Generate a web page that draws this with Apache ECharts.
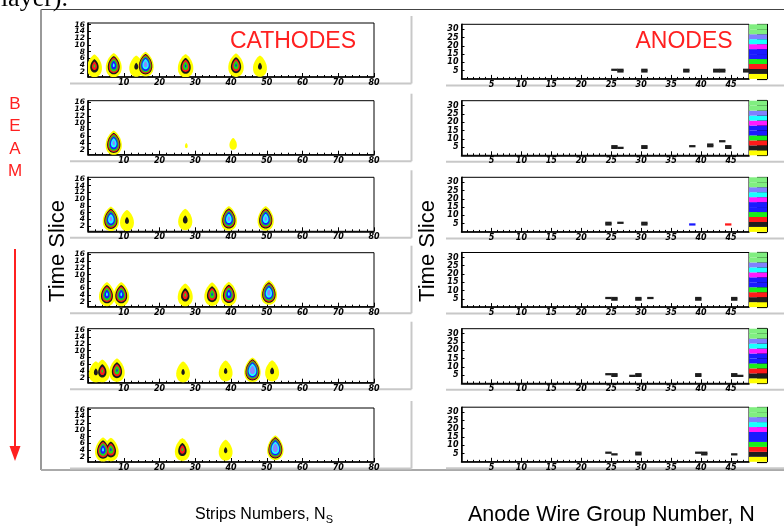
<!DOCTYPE html>
<html><head><meta charset="utf-8">
<script src="https://cdn.jsdelivr.net/npm/echarts@6/dist/echarts.min.js"></script>
<style>html,body{margin:0;padding:0;background:#fff}#c{width:784px;height:530px}</style>
</head><body><div id="c"></div>
<script>
// ---------- data ----------
const cathodeYTicks = [2, 4, 6, 8, 10, 12, 14, 16];
const cathodeYLabelsA = [2, 6, 10, 14];
const cathodeYLabelsB = [4, 8, 12, 16];
const anodeYTicks = [5, 10, 15, 20, 25, 30];
// cathode hits: [strip, time slice, amplitude]
const cathode1 = [[1.8, 3.8, 7.5], [7.2, 4, 12.5], [13.5, 3.7, 5], [16.1, 4.3, 17.5], [27.3, 3.8, 9.5], [41.4, 4, 9.5], [48.1, 3.7, 5]];
const cathode2 = [[7.2, 4, 16.5], [27.5, 3.2, 1.15], [40.6, 3.7, 1.7]];
const cathode3 = [[6.4, 4.2, 16.5], [10.9, 3.7, 5], [27.2, 4, 5.3], [39.4, 4.3, 16.5], [49.7, 4.3, 16.5]];
const cathode4 = [[5.3, 4.2, 12.5], [9.3, 4.2, 12.5], [27.2, 4, 7.5], [34.7, 4.2, 9.5], [39.4, 4.3, 12.5], [50.6, 4.7, 17.5]];
const cathode5 = [[2.2, 3.7, 5], [4, 4, 7.5], [8.1, 4.2, 9.5], [26.6, 3.7, 4.8], [38.5, 4, 4.8], [46, 4.3, 20], [51.5, 4, 5]];
const cathode6 = [[4.2, 4.2, 12.5], [6.4, 4.2, 9.5], [26.4, 4.2, 7.5], [38.5, 4, 4.8], [52.4, 4.7, 20]];
// anode cells: [wire group, time slice, palette index]
const anode1 = [[25, 5, 1], [26, 4, 1], [26, 5, 1], [30, 4, 1], [30, 5, 1], [37, 4, 1], [37, 5, 1], [42, 4, 1], [42, 5, 1], [43, 4, 1], [43, 5, 1], [47, 4, 1], [47, 5, 1]];
const anode2 = [[25, 4, 1], [25, 5, 1], [26, 4, 1], [30, 4, 1], [30, 5, 1], [38, 5, 1], [41, 5, 1], [41, 6, 1], [43, 8, 1], [44, 4, 1], [44, 5, 1]];
const anode3 = [[24, 4, 1], [24, 5, 1], [26, 5, 1], [30, 4, 1], [30, 5, 1], [38, 4, 4], [44, 4, 2]];
const anode4 = [[24, 5, 1], [25, 4, 1], [25, 5, 1], [29, 4, 1], [29, 5, 1], [31, 5, 1], [39, 4, 1], [39, 5, 1], [45, 4, 1], [45, 5, 1]];
const anode5 = [[24, 5, 1], [25, 4, 1], [25, 5, 1], [28, 4, 1], [29, 4, 1], [29, 5, 1], [39, 4, 1], [39, 5, 1], [45, 4, 1], [45, 5, 1], [46, 4, 1]];
const anode6 = [[24, 5, 1], [25, 4, 1], [29, 4, 1], [29, 5, 1], [39, 5, 1], [40, 4, 1], [40, 5, 1], [45, 4, 1]];
const paletteColors = ['#ffff00', '#1e1e1e', '#ff1a1a', '#1aee1a', '#1a1aff', '#1a1aff', '#ff1aff', '#1affff', '#8080ff', '#80ee80', '#80ee80'];
const contourLevels = [1, 4, 5.5, 7, 9, 11.5, 14.5];
const contourColors = ['#ffff00', '#1a1a1a', '#ff1a1a', '#1add1a', '#1a1aff', '#1affff', '#8888ff'];

const cathodes = [cathode1, cathode2, cathode3, cathode4, cathode5, cathode6];
const anodes = [anode1, anode2, anode3, anode4, anode5, anode6];

// ---------- layout ----------
const cathTops = [23, 100.7, 177.3, 252.7, 328.7, 408];
const cathH = 54;
const anoTops = [24.3, 100.7, 177.3, 252.5, 328.7, 407.2];
const anoH = 54.6;

const lab = { fontFamily: 'DejaVu Sans', fontSize: 8, lineHeight: 8, fontWeight: 'bold', fontStyle: 'italic', color: '#000', hideOverlap: false };

function teardrop(cx, cy, rx, ry) {
  const pts = [];
  const N = 40;
  for (let k = 0; k < N; k++) {
    const t = 2 * Math.PI * k / N;
    const w = Math.sqrt(Math.abs(Math.sin(t / 2)));
    pts.push([cx + rx * Math.sin(t) * w / 0.86, cy - ry * Math.cos(t)]);
  }
  return pts;
}
function makeContour(lev) {
  return function (params, api) {
    const a = api.value(2);
    const thr = contourLevels[lev];
    if (!(a > thr)) return { type: 'group', children: [] };
    const f = 1 - thr / a;
    const p = api.coord([api.value(0), api.value(1)]);
    const rx = 8.3 * f + 0.3, ry = 12 * f + 1;
    const cs = params.coordSys;
    return {
      type: 'polygon',
      shape: { points: teardrop(p[0], p[1], rx, ry) },
      style: { fill: contourColors[lev] },
      clipPath: { type: 'rect', shape: { x: cs.x, y: cs.y, width: cs.width, height: cs.height } }
    };
  };
}
function cellItem(params, api) {
  const w = api.value(0), t = api.value(1), v = api.value(2);
  const p0 = api.coord([w, t + 1]), p1 = api.coord([w + 1, t]);
  return { type: 'rect', shape: { x: p0[0], y: p0[1] - 0.3, width: p1[0] - p0[0] + 0.4, height: p1[1] - p0[1] + 0.6 }, style: { fill: paletteColors[v] } };
}
function paletteItem(params, api) {
  const i = api.value(0);
  const p0 = api.coord([0, i + 1]), p1 = api.coord([1, i]);
  return { type: 'rect', shape: { x: p0[0], y: p0[1], width: p1[0] - p0[0], height: p1[1] - p0[1] }, style: { fill: paletteColors[i] } };
}

const option = { animation: false, backgroundColor: '#fff', grid: [], xAxis: [], yAxis: [], series: [], graphic: [] };
const axLine = { onZero: false, lineStyle: { color: '#000', width: 1.5 } };

cathodes.forEach((hits, i) => {
  const gi = option.grid.length;
  option.grid.push({ left: 88, top: cathTops[i], width: 286, height: cathH, show: true, borderColor: '#000', borderWidth: 1, containLabel: false, outerBoundsMode: 'none' });
  const xi = option.xAxis.length;
  option.xAxis.push({ gridIndex: gi, type: 'value', min: 0, max: 80, interval: 10, axisLine: axLine,
    axisTick: { inside: true, length: 4, lineStyle: { color: '#000' } },
    minorTick: { show: true, splitNumber: 5, length: 2, lineStyle: { color: '#000' } },
    splitLine: { show: false }, minorSplitLine: { show: false },
    axisLabel: Object.assign({}, lab, { margin: 2, showMinLabel: false }) });
  const yi = option.yAxis.length;
  option.yAxis.push({ gridIndex: gi, type: 'value', min: 0.5, max: 16.5, axisLine: axLine,
    axisTick: { inside: true, length: 3, customValues: cathodeYTicks, lineStyle: { color: '#000' } },
    splitLine: { show: false },
    axisLabel: Object.assign({}, lab, { fontSize: 7.5, margin: 3, customValues: cathodeYLabelsA }) });
  option.yAxis.push({ gridIndex: gi, type: 'value', min: 0.5, max: 16.5, position: 'left',
    axisLine: { show: false, onZero: false }, axisTick: { show: false }, splitLine: { show: false },
    axisLabel: Object.assign({}, lab, { fontSize: 7.5, margin: 3, customValues: cathodeYLabelsB }) });
  contourColors.forEach((c, lev) => {
    option.series.push({ type: 'custom', xAxisIndex: xi, yAxisIndex: yi, silent: true, data: hits, renderItem: makeContour(lev) });
  });
});

anodes.forEach((cells, i) => {
  const gi = option.grid.length;
  option.grid.push({ left: 461.5, top: anoTops[i], width: 287.5, height: anoH, show: true, borderColor: '#000', borderWidth: 1, containLabel: false, outerBoundsMode: 'none' });
  const xi = option.xAxis.length;
  option.xAxis.push({ gridIndex: gi, type: 'value', min: 0, max: 48, interval: 5, axisLine: axLine,
    axisTick: { inside: true, length: 4, lineStyle: { color: '#000' } },
    minorTick: { show: true, splitNumber: 5, length: 2, lineStyle: { color: '#000' } },
    splitLine: { show: false }, minorSplitLine: { show: false },
    axisLabel: Object.assign({}, lab, { margin: 2, showMinLabel: false, showMaxLabel: false }) });
  const yi = option.yAxis.length;
  option.yAxis.push({ gridIndex: gi, type: 'value', min: 0, max: 33, interval: 5, axisLine: axLine,
    axisTick: { inside: true, length: 3, lineStyle: { color: '#000' } },
    splitLine: { show: false },
    axisLabel: Object.assign({}, lab, { margin: 3, showMinLabel: false, showMaxLabel: false }) });
  option.series.push({ type: 'custom', xAxisIndex: xi, yAxisIndex: yi, silent: true, data: cells, renderItem: cellItem });

  const pi = option.grid.length;
  option.grid.push({ left: 749, top: anoTops[i], width: 18, height: anoH, show: false, containLabel: false, outerBoundsMode: 'none' });
  const pxi = option.xAxis.length;
  option.xAxis.push({ gridIndex: pi, type: 'value', min: 0, max: 1, show: false });
  const pyi = option.yAxis.length;
  option.yAxis.push({ gridIndex: pi, type: 'value', min: 0, max: 11, interval: 1, position: 'right',
    axisLine: { onZero: false, lineStyle: { color: '#000', width: 1 } },
    axisTick: { inside: true, length: 10, lineStyle: { color: '#000', width: 1.2 } },
    axisLabel: { show: false }, splitLine: { show: false } });
  option.series.push({ type: 'custom', xAxisIndex: pxi, yAxisIndex: pyi, silent: true, z: 1, data: paletteColors.map((c, k) => [k]), renderItem: paletteItem });
});

// ---------- decorations ----------
const G = option.graphic;
function line(x1, y1, x2, y2, stroke, w) { G.push({ type: 'line', silent: true, z: -1, shape: { x1, y1, x2, y2 }, style: { stroke, lineWidth: w } }); }
// outer frame
line(41, 9.5, 784, 9.5, '#444', 1.2);
line(41, 9.5, 41, 470, '#999', 2);
line(41, 470, 784, 470, '#aaa', 2);
// panel boxes
cathTops.forEach(t => {
  line(70, t + cathH + 6.5, 411.5, t + cathH + 6.5, '#c8c8c8', 2);
  line(411.5, t - 7, 411.5, t + cathH + 6.5, '#c8c8c8', 2);
});
anoTops.forEach(t => { line(446, t + anoH + 6.5, 784, t + anoH + 6.5, '#c8c8c8', 2); });

function text(x, y, str, font, fill, align, valign, rot) {
  const el = { type: 'text', x, y, silent: true, z: 10, style: { text: str, font, fill, textAlign: align, textVerticalAlign: valign, align, verticalAlign: valign } };
  if (rot) { el.rotation = rot; }
  G.push(el);
}
text(68, 12, 'layer).', '26px "Liberation Serif"', '#000', 'right', 'bottom');
text(293, 42, 'CATHODES', '23px "Liberation Sans"', '#ff2020', 'center', 'middle');
text(684, 42, 'ANODES', '23px "Liberation Sans"', '#ff2020', 'center', 'middle');
['B', 'E', 'A', 'M'].forEach((ch, k) => text(15, 104 + k * 22.5, ch, '17px "Liberation Sans"', '#ff2020', 'center', 'middle'));
text(58, 251, 'Time Slice', '22px "Liberation Sans"', '#000', 'center', 'middle', Math.PI / 2);
text(428, 251, 'Time Slice', '22px "Liberation Sans"', '#000', 'center', 'middle', Math.PI / 2);
G.push({ type: 'line', silent: true, shape: { x1: 15, y1: 249, x2: 15, y2: 448 }, style: { stroke: '#ff2020', lineWidth: 2 } });
G.push({ type: 'polygon', silent: true, shape: { points: [[9.5, 446], [20.5, 446], [15, 461]] }, style: { fill: '#ff2020' } });
G.push({ type: 'text', x: 264, y: 515, silent: true, style: {
  text: 'Strips Numbers, N{s|S}', font: '16px "Liberation Sans"', fill: '#000', textAlign: 'center', textVerticalAlign: 'middle', align: 'center', verticalAlign: 'middle',
  rich: { s: { fontSize: 11, fontFamily: 'Liberation Sans', fill: '#000', padding: [9, 0, 0, 0] } } } });
text(468, 515, 'Anode Wire Group Number, N', '21.5px "Liberation Sans"', '#000', 'left', 'middle');

const chart = echarts.init(document.getElementById('c'), null, { renderer: 'canvas' });
chart.setOption(option);
</script>
</body></html>
